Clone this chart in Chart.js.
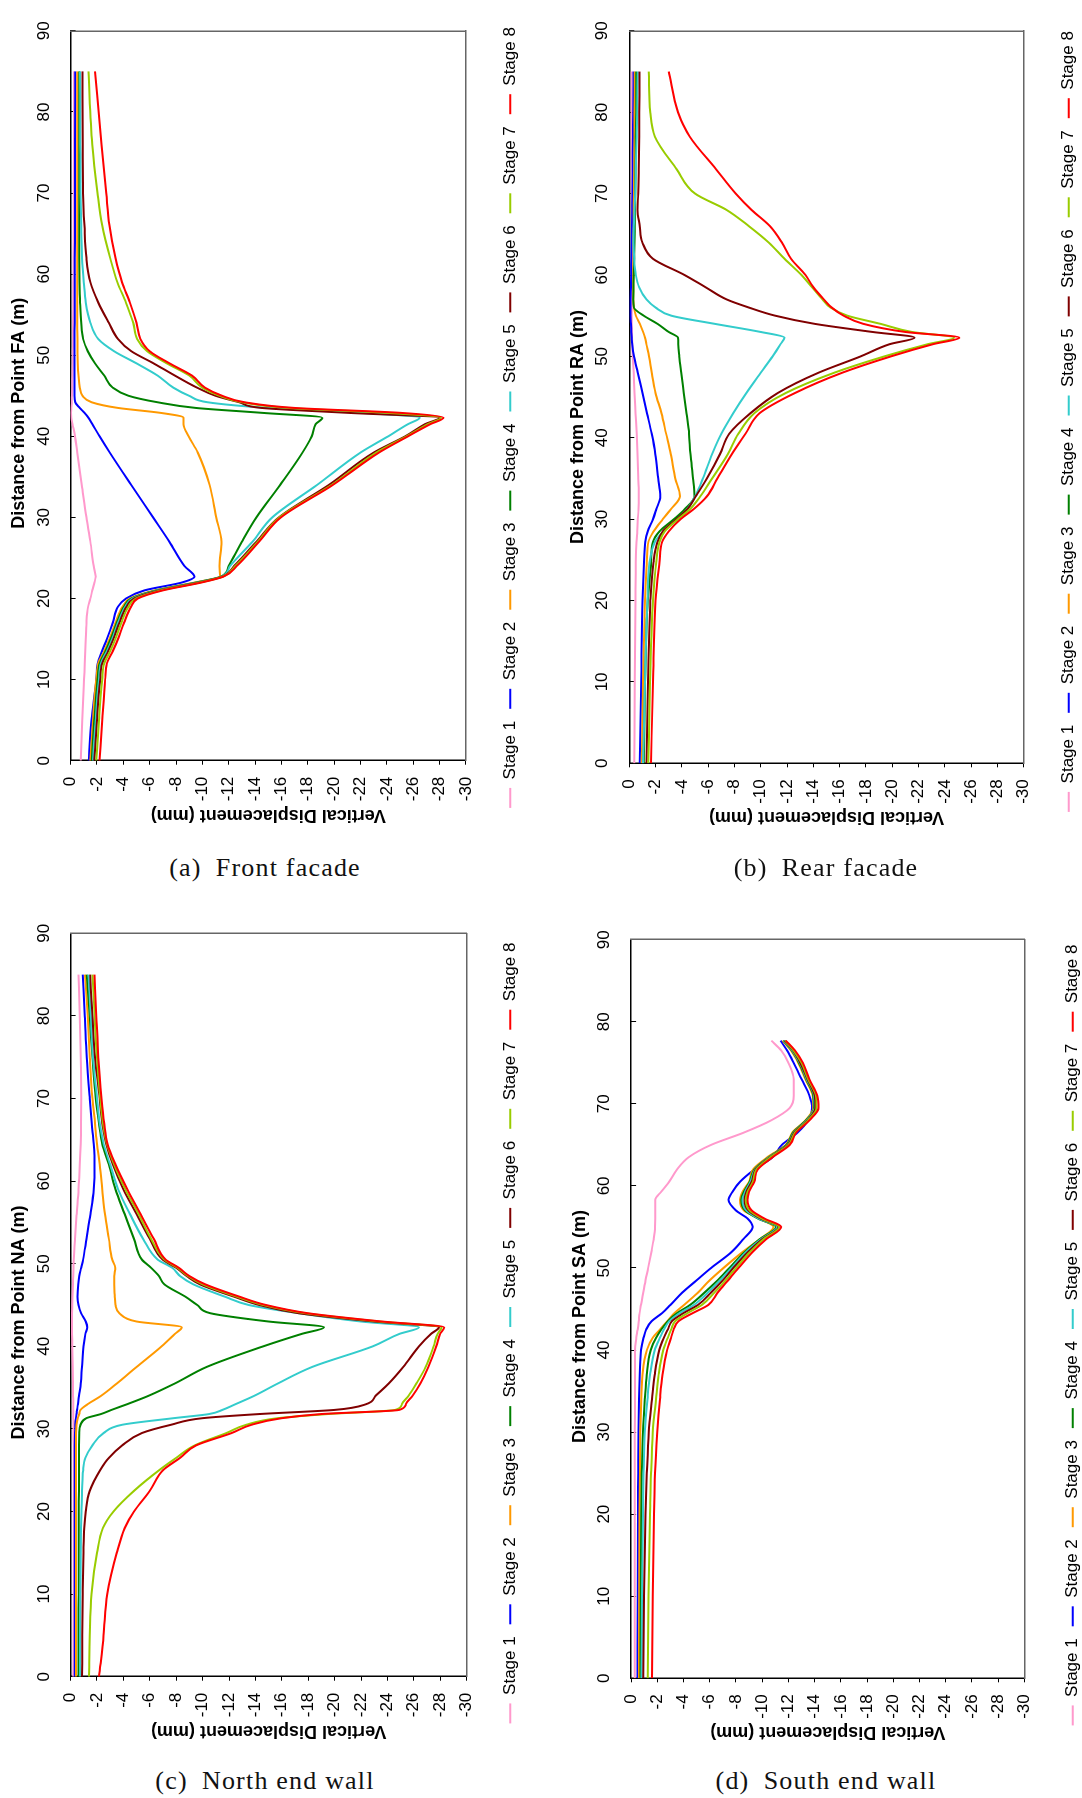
<!DOCTYPE html>
<html lang="en">
<head>
<meta charset="utf-8">
<title>Vertical displacement profiles, stages 1-8</title>
<script src="https://cdn.jsdelivr.net/npm/chart.js@4.4.1/dist/chart.umd.min.js"></script>
<style>
	html, body { margin: 0; padding: 0; background: #fff; }
	body { position: relative; width: 1082px; height: 1798px; overflow: hidden; }
	.panel { position: absolute; width: 845px; height: 560px; transform-origin: 0 0; transform: rotate(-90deg); }
	.panel canvas { display: block; }
	.caption {
		position: absolute; text-align: center; white-space: nowrap; color: #111;
		font-family: "Liberation Serif", "DejaVu Serif", serif; font-size: 26px; line-height: 30px; letter-spacing: 1.2px;
	}
</style>
</head>
<body>
<div class="panel" style="left:0;top:845px"><canvas id="chartFA" width="845" height="560"></canvas></div>
<div class="panel" style="left:541px;top:845px"><canvas id="chartRA" width="845" height="560"></canvas></div>
<div class="panel" style="left:0;top:1745px"><canvas id="chartNA" width="845" height="560"></canvas></div>
<div class="panel" style="left:541px;top:1745px"><canvas id="chartSA" width="845" height="560"></canvas></div>

<div class="caption" style="left:0;top:853px;width:530px">(a)&ensp;Front facade</div>
<div class="caption" style="left:541px;top:853px;width:570px">(b)&ensp;Rear facade</div>
<div class="caption" style="left:0;top:1766px;width:530px">(c)&ensp;North end wall</div>
<div class="caption" style="left:541px;top:1766px;width:570px">(d)&ensp;South end wall</div>

<script>
// Distances along each wall (m) and vertical displacement (mm) for stages 1-8

// (a) Front facade, from point FA
var distFA = [0, 5, 10, 12, 13.5, 15, 17, 19, 20, 21, 22, 22.7, 24, 27, 30, 34, 38, 40, 41.5, 42.3, 42.9, 43.5, 44.2, 45, 46, 47.5, 49, 50.5, 52, 54, 56.5, 59, 62, 66, 70, 76, 85];
var fa1 = [-0.77, -0.88, -1.02, -1.08, -1.12, -1.15, -1.2, -1.33, -1.5, -1.65, -1.82, -1.9, -1.75, -1.5, -1.2, -0.85, -0.5, -0.34, -0.15, -0.05, -0.03, -0.05, -0.08, -0.1, -0.12, -0.14, -0.16, -0.17, -0.18, -0.19, -0.2, -0.21, -0.22, -0.23, -0.24, -0.25, -0.25];
var fa2 = [-1.38, -1.58, -1.95, -2.05, -2.38, -2.75, -3.2, -3.6, -4.2, -5.6, -8.5, -9.4, -8.65, -7.5, -6.26, -4.6, -2.97, -2.2, -1.65, -1.35, -1.05, -0.7, -0.35, -0.3, -0.3, -0.3, -0.3, -0.3, -0.3, -0.31, -0.31, -0.32, -0.32, -0.33, -0.33, -0.34, -0.35];
var fa3 = [-1.5, -1.7, -1.95, -2.1, -2.55, -2.95, -3.4, -3.95, -4.5, -6.4, -9.5, -11.35, -11.3, -11.45, -11.05, -10.55, -9.65, -8.96, -8.57, -8.57, -6.8, -3.6, -1.6, -0.9, -0.7, -0.6, -0.55, -0.53, -0.52, -0.51, -0.5, -0.5, -0.5, -0.5, -0.5, -0.5, -0.5];
var fa4 = [-1.6, -1.8, -2.05, -2.2, -2.65, -3.05, -3.5, -4.05, -4.6, -6.5, -9.6, -11.4, -12.0, -13.0, -14.1, -15.9, -17.6, -18.3, -18.6, -19.1, -14.5, -9.5, -6.6, -4.4, -3.2, -2.55, -1.85, -1.3, -0.95, -0.8, -0.72, -0.68, -0.66, -0.65, -0.65, -0.65, -0.65];
var fa5 = [-1.7, -1.9, -2.15, -2.3, -2.75, -3.15, -3.6, -4.15, -4.7, -6.6, -9.7, -11.45, -12.1, -13.8, -15.3, -18.7, -22.0, -24.1, -25.6, -26.5, -22.0, -15.0, -10.4, -9.0, -7.8, -6.6, -5.0, -3.3, -2.1, -1.5, -1.15, -1.0, -0.87, -0.8, -0.76, -0.74, -0.72];
var fa6 = [-1.8, -2.0, -2.25, -2.4, -2.85, -3.25, -3.7, -4.25, -4.8, -6.7, -9.8, -11.5, -12.4, -14.1, -15.8, -19.6, -23.0, -25.4, -26.9, -28.0, -21.0, -14.5, -12.8, -11.0, -9.6, -7.9, -6.3, -4.6, -3.6, -2.9, -2.1, -1.5, -1.2, -1.05, -0.95, -0.92, -0.9];
var fa7 = [-1.95, -2.15, -2.4, -2.55, -3.0, -3.4, -3.85, -4.4, -4.95, -6.85, -9.9, -11.55, -12.5, -14.2, -15.85, -19.8, -23.2, -25.5, -27.1, -28.1, -24.0, -16.5, -13.0, -11.3, -10.0, -9.0, -7.3, -5.8, -5.05, -4.75, -4.2, -3.55, -3.0, -2.4, -2.05, -1.65, -1.35];
var fa8 = [-2.2, -2.4, -2.62, -2.75, -3.2, -3.6, -4.05, -4.6, -5.1, -7.0, -10.0, -11.6, -12.6, -14.3, -15.95, -19.9, -23.4, -25.6, -27.3, -28.3, -25.0, -17.0, -13.2, -11.5, -10.2, -9.2, -7.5, -6.0, -5.3, -5.0, -4.5, -3.9, -3.4, -2.95, -2.7, -2.35, -1.85];

// (b) Rear facade, from point RA
var distRA = [0, 10, 20, 24.7, 27.2, 28.5, 30, 31.2, 32.8, 35, 38, 40.5, 43, 45.5, 48, 50, 51.5, 52.3, 53, 54, 55, 56, 57, 58.5, 60, 62, 64, 66, 68, 70, 73, 77, 80, 85];
var ra1 = [-0.38, -0.42, -0.47, -0.5, -0.55, -0.6, -0.65, -0.7, -0.72, -0.68, -0.62, -0.56, -0.48, -0.4, -0.33, -0.27, -0.23, -0.21, -0.2, -0.19, -0.18, -0.18, -0.18, -0.18, -0.18, -0.18, -0.18, -0.18, -0.18, -0.18, -0.18, -0.19, -0.19, -0.19];
var ra2 = [-0.8, -0.9, -1.0, -1.12, -1.22, -1.4, -1.8, -2.05, -2.36, -2.2, -1.98, -1.7, -1.35, -1.0, -0.65, -0.35, -0.22, -0.18, -0.15, -0.12, -0.1, -0.1, -0.1, -0.12, -0.14, -0.16, -0.18, -0.2, -0.22, -0.24, -0.26, -0.28, -0.3, -0.32];
var ra3 = [-0.95, -1.05, -1.2, -1.33, -1.45, -1.85, -2.55, -3.15, -3.85, -3.5, -3.15, -2.8, -2.45, -2.0, -1.7, -1.5, -1.3, -1.2, -1.05, -0.8, -0.5, -0.35, -0.3, -0.3, -0.3, -0.31, -0.32, -0.33, -0.34, -0.35, -0.37, -0.39, -0.4, -0.42];
var ra4 = [-1.1, -1.2, -1.4, -1.66, -1.8, -2.3, -3.4, -4.2, -4.95, -4.85, -4.65, -4.55, -4.35, -4.15, -3.95, -3.8, -3.72, -3.7, -3.0, -2.15, -1.1, -0.35, -0.3, -0.32, -0.34, -0.37, -0.4, -0.42, -0.44, -0.46, -0.48, -0.5, -0.52, -0.53];
var ra5 = [-1.05, -1.2, -1.38, -1.54, -1.95, -2.6, -3.7, -4.4, -5.0, -5.6, -6.3, -7.0, -7.9, -8.9, -10.0, -10.9, -11.5, -11.8, -10.0, -6.5, -3.2, -2.0, -1.3, -0.75, -0.5, -0.37, -0.32, -0.34, -0.4, -0.45, -0.5, -0.56, -0.6, -0.64];
var ra6 = [-1.3, -1.42, -1.6, -1.84, -2.15, -2.55, -3.6, -4.4, -5.05, -5.9, -6.9, -7.6, -9.2, -11.3, -14.4, -17.6, -19.8, -21.7, -18.5, -14.1, -11.1, -9.1, -7.4, -5.8, -4.2, -1.8, -1.0, -0.8, -0.62, -0.68, -0.72, -0.75, -0.76, -0.78];
var ra7 = [-1.45, -1.58, -1.8, -2.05, -2.3, -2.7, -3.7, -4.6, -5.4, -6.3, -7.5, -8.3, -9.5, -11.9, -15.6, -19.4, -22.7, -24.7, -21.5, -19.1, -16.6, -15.3, -14.7, -13.9, -13.1, -11.8, -10.6, -9.1, -7.4, -5.0, -3.6, -1.95, -1.6, -1.48];
var ra8 = [-1.65, -1.8, -2.0, -2.3, -2.5, -3.0, -3.9, -4.87, -5.9, -6.7, -7.8, -8.84, -9.9, -12.6, -16.2, -19.9, -23.1, -25.1, -21.0, -17.8, -16.3, -15.4, -14.8, -14.0, -13.4, -12.3, -11.6, -10.7, -9.3, -8.1, -6.6, -4.6, -3.7, -3.0];

// (c) North end wall, from point NA
var distNA = [0, 5, 10, 15, 18, 20, 22.5, 25, 26.5, 28, 29.5, 30.5, 31.3, 31.8, 32.3, 33, 34, 35.5, 37.5, 40, 41.5, 42.3, 43, 44, 45, 46, 47.5, 48.5, 49.5, 50.5, 53, 56, 59, 62, 64.5, 67, 70, 75, 80, 85];
var na1 = [-0.21, -0.22, -0.23, -0.24, -0.24, -0.24, -0.24, -0.24, -0.23, -0.23, -0.22, -0.22, -0.21, -0.21, -0.2, -0.2, -0.19, -0.18, -0.16, -0.13, -0.11, -0.1, -0.1, -0.11, -0.13, -0.15, -0.18, -0.2, -0.22, -0.24, -0.33, -0.46, -0.6, -0.7, -0.76, -0.79, -0.8, -0.77, -0.7, -0.6];
var na2 = [-0.32, -0.32, -0.32, -0.32, -0.32, -0.32, -0.32, -0.32, -0.32, -0.32, -0.33, -0.36, -0.4, -0.44, -0.49, -0.56, -0.64, -0.77, -0.86, -0.97, -1.12, -1.26, -1.15, -0.8, -0.6, -0.53, -0.58, -0.66, -0.8, -0.95, -1.2, -1.5, -1.75, -1.82, -1.75, -1.6, -1.45, -1.23, -1.08, -0.92];
var na3 = [-0.4, -0.4, -0.4, -0.4, -0.4, -0.4, -0.4, -0.4, -0.4, -0.4, -0.4, -0.45, -0.55, -0.65, -0.75, -1.3, -2.3, -3.5, -5.0, -6.9, -7.9, -8.42, -5.0, -3.7, -3.4, -3.35, -3.3, -3.3, -3.38, -3.15, -2.9, -2.6, -2.4, -2.2, -2.0, -1.85, -1.65, -1.45, -1.3, -1.1];
var na4 = [-0.6, -0.6, -0.61, -0.62, -0.62, -0.62, -0.63, -0.63, -0.64, -0.64, -0.65, -0.75, -1.2, -2.3, -3.1, -4.3, -5.9, -7.9, -10.3, -14.6, -17.5, -19.2, -15.0, -10.6, -9.6, -8.7, -7.1, -6.7, -6.1, -5.4, -4.8, -4.1, -3.4, -2.9, -2.4, -2.15, -1.9, -1.65, -1.45, -1.23];
var na5 = [-0.71, -0.72, -0.74, -0.76, -0.79, -0.82, -0.87, -0.95, -1.12, -1.65, -2.5, -3.9, -7.8, -10.5, -11.5, -12.5, -13.9, -15.7, -18.3, -22.9, -24.9, -26.4, -22.0, -17.3, -13.5, -11.7, -9.3, -8.3, -7.7, -6.6, -5.5, -4.5, -3.6, -3.0, -2.5, -2.2, -2.0, -1.7, -1.52, -1.35];
var na6 = [-0.87, -0.89, -0.92, -0.97, -1.03, -1.15, -1.45, -2.24, -2.9, -3.9, -5.4, -7.6, -10.0, -14.3, -20.0, -22.4, -23.1, -24.1, -25.2, -26.4, -27.3, -27.9, -23.0, -17.3, -14.3, -12.4, -9.8, -8.8, -8.0, -6.97, -6.0, -5.0, -4.0, -3.2, -2.7, -2.4, -2.2, -1.85, -1.65, -1.48];
var na7 = [-1.4, -1.45, -1.58, -2.0, -2.45, -3.25, -4.8, -6.7, -8.0, -9.4, -11.8, -13.3, -15.7, -19.5, -24.6, -25.1, -25.6, -26.2, -26.9, -27.5, -27.8, -28.1, -23.4, -17.8, -14.6, -12.6, -10.0, -8.9, -8.1, -7.1, -6.1, -5.15, -4.15, -3.3, -2.75, -2.45, -2.25, -2.0, -1.82, -1.66];
var na8 = [-2.16, -2.5, -2.78, -3.5, -4.1, -4.8, -6.0, -7.0, -8.3, -9.5, -12.2, -13.7, -16.0, -19.0, -24.9, -25.4, -25.9, -26.5, -27.1, -27.7, -28.0, -28.3, -23.6, -18.0, -14.8, -12.8, -10.2, -9.0, -8.2, -7.2, -6.3, -5.3, -4.3, -3.4, -2.8, -2.55, -2.35, -2.1, -1.95, -1.81];

// (d) South end wall, from point SA
var distSA = [0, 10, 20, 25, 30, 34, 37, 40, 41.5, 42.5, 43.5, 44.5, 45.5, 47, 48.5, 50, 52, 53.5, 55, 56, 57, 58.3, 59.3, 60.5, 62, 63.5, 65, 66.5, 68, 69.5, 71, 73, 75, 76.5, 77.7];
var sa1 = [-0.27, -0.27, -0.28, -0.28, -0.28, -0.3, -0.3, -0.3, -0.4, -0.5, -0.58, -0.65, -0.75, -0.92, -1.1, -1.3, -1.55, -1.72, -1.83, -1.84, -1.84, -1.84, -2.3, -2.9, -3.5, -4.4, -6.1, -8.6, -10.7, -12.1, -12.4, -12.4, -12.0, -11.45, -10.7];
var sa2 = [-0.49, -0.5, -0.52, -0.54, -0.56, -0.6, -0.66, -0.75, -0.95, -1.15, -1.55, -2.36, -3.0, -3.9, -5.0, -6.1, -7.7, -8.55, -9.27, -8.9, -8.0, -7.42, -7.75, -8.3, -9.4, -10.8, -11.5, -12.7, -13.5, -13.8, -13.6, -13.0, -12.4, -11.9, -11.4];
var sa3 = [-0.6, -0.62, -0.65, -0.67, -0.7, -0.78, -0.87, -1.2, -1.65, -2.2, -2.75, -3.3, -4.05, -5.1, -6.0, -7.05, -8.55, -9.8, -10.86, -9.8, -8.6, -8.3, -8.5, -9.0, -9.3, -10.4, -11.8, -12.3, -13.3, -13.9, -13.85, -13.3, -12.75, -12.2, -11.55];
var sa4 = [-0.72, -0.74, -0.78, -0.82, -0.9, -1.05, -1.2, -1.5, -1.9, -2.3, -2.8, -3.5, -4.5, -5.6, -6.6, -7.5, -8.7, -9.8, -11.05, -9.7, -8.7, -8.4, -8.6, -9.05, -9.4, -10.5, -11.85, -12.35, -13.35, -13.95, -13.9, -13.35, -12.8, -12.25, -11.6];
var sa5 = [-0.8, -0.83, -0.9, -0.95, -1.05, -1.25, -1.45, -1.8, -2.2, -2.5, -2.9, -3.7, -4.8, -5.85, -6.8, -7.65, -8.8, -9.9, -11.15, -9.75, -8.8, -8.5, -8.7, -9.1, -9.45, -10.55, -11.9, -12.4, -13.4, -14.0, -13.95, -13.4, -12.85, -12.3, -11.65];
var sa6 = [-0.92, -0.98, -1.1, -1.2, -1.35, -1.6, -1.8, -2.15, -2.5, -2.8, -3.1, -4.0, -5.1, -6.1, -7.0, -7.8, -8.95, -10.0, -11.25, -9.9, -8.95, -8.65, -8.8, -9.2, -9.5, -10.6, -11.95, -12.45, -13.45, -14.05, -14.0, -13.45, -12.9, -12.35, -11.7];
var sa7 = [-1.27, -1.33, -1.45, -1.52, -1.66, -1.9, -2.1, -2.45, -2.8, -3.05, -3.35, -4.3, -5.4, -6.35, -7.2, -8.0, -9.1, -10.1, -11.3, -10.0, -9.05, -8.75, -8.9, -9.3, -9.55, -10.65, -12.0, -12.5, -13.5, -14.15, -14.1, -13.5, -13.0, -12.4, -11.75];
var sa8 = [-1.6, -1.66, -1.75, -1.82, -2.0, -2.2, -2.4, -2.75, -3.05, -3.25, -3.6, -4.7, -5.9, -6.6, -7.4, -8.2, -9.3, -10.3, -11.45, -10.2, -9.2, -8.87, -9.0, -9.4, -9.66, -10.8, -12.1, -12.6, -13.6, -14.3, -14.2, -13.6, -13.1, -12.5, -11.8];

var stageNames = ['Stage 1', 'Stage 2', 'Stage 3', 'Stage 4', 'Stage 5', 'Stage 6', 'Stage 7', 'Stage 8'];
var distTicks = { min: 0, max: 90, step: 10 };
var dispTicks = { min: -30, max: 0, step: 2 };

(function () {
	'use strict';

	var stageColors = ['#ff99cc', '#0000ff', '#ff9900', '#008000', '#33cccc', '#800000', '#99cc00', '#ff0000'];
	var frameColor = '#666';

	Chart.defaults.font.family = '"Liberation Sans", Arial, sans-serif';
	Chart.defaults.font.size = 17;
	Chart.defaults.color = '#000';

	// each chart is drawn in the normal Excel orientation, the panel div is turned 90deg
	function drawPanel(canvasId, pointName, dist, series, box) {
		var datasets = series.map(function (values, i) {
			return {
				label: stageNames[i],
				data: dist.map(function (d, j) {
					return { x: d, y: values[j] };
				}),
				borderColor: stageColors[i],
				backgroundColor: stageColors[i],
				borderWidth: 2,
				borderJoinStyle: 'round',
				pointRadius: 0,
				pointHoverRadius: 0,
				cubicInterpolationMode: 'monotone',
				order: series.length - i
			};
		});

		// trailing spaces push the centred title a little off centre, as in the original
		var distTitle = 'Distance from Point ' + pointName + ' (m)' + ' '.repeat(box.titleSpaces);

		return new Chart(document.getElementById(canvasId), {
			type: 'line',
			data: { datasets: datasets },
			options: {
				responsive: false,
				animation: false,
				events: [],
				layout: { padding: box.padding },
				plugins: {
					tooltip: { enabled: false },
					legend: {
						position: 'bottom',
						labels: {
							color: '#000',
							font: { size: 17 },
							usePointStyle: true,
							pointStyle: 'line',
							pointStyleWidth: 20,
							padding: 12,
							sort: function (a, b) {
								return a.datasetIndex - b.datasetIndex;
							}
						}
					}
				},
				scales: {
					x: {
						type: 'linear',
						position: 'top',
						min: distTicks.min,
						max: distTicks.max,
						ticks: { stepSize: distTicks.step, padding: 21.4, maxRotation: 0, autoSkip: false },
						grid: { drawOnChartArea: false, tickLength: -5, color: '#000', lineWidth: 1 },
						border: { color: '#000', width: 1.5 },
						title: {
							display: true,
							text: distTitle,
							font: { size: 18, weight: 'bold' },
							padding: { top: 7.7, bottom: 0 }
						},
						afterFit: function (scale) {
							scale.height = 70;
						}
					},
					y: {
						type: 'linear',
						position: 'left',
						min: dispTicks.min,
						max: dispTicks.max,
						ticks: { stepSize: dispTicks.step, padding: 12, autoSkip: false },
						grid: { drawOnChartArea: false, tickLength: 4, color: '#000', lineWidth: 1 },
						border: { color: '#000', width: 1.5 },
						title: {
							display: true,
							text: 'Vertical Displacement (mm)',
							font: { size: 18, weight: 'bold' },
							padding: { top: 1.2, bottom: 0 }
						},
						afterFit: function (scale) {
							scale.width = 66;
						}
					},
					// plain frame lines on the two open sides of the plot area
					x2: {
						type: 'linear',
						position: 'bottom',
						min: distTicks.min,
						max: distTicks.max,
						ticks: { display: false },
						grid: { display: false },
						border: { color: frameColor, width: 1.5 },
						afterFit: function (scale) {
							scale.height = box.gap;
						}
					},
					y2: {
						type: 'linear',
						position: 'right',
						min: dispTicks.min,
						max: dispTicks.max,
						ticks: { display: false },
						grid: { display: false },
						border: { color: frameColor, width: 1.5 },
						afterFit: function (scale) {
							scale.width = box.edge;
						}
					}
				}
			}
		});
	}

	drawPanel('chartFA', 'FA', distFA, [fa1, fa2, fa3, fa4, fa5, fa6, fa7, fa8],
		{ padding: { top: 0.6, left: 18.3, right: 8.3, bottom: 31.2 }, gap: 23.9, edge: 10, titleSpaces: 7 });
	drawPanel('chartRA', 'RA', distRA, [ra1, ra2, ra3, ra4, ra5, ra6, ra7, ra8],
		{ padding: { top: 18.3, left: 15.7, right: 13.7, bottom: 13.8 }, gap: 24.5, edge: 9.6, titleSpaces: 12 });
	drawPanel('chartNA', 'NA', distNA, [na1, na2, na3, na4, na5, na6, na7, na8],
		{ padding: { top: 0.6, left: 2.3, right: 23.3, bottom: 31.2 }, gap: 23.2, edge: 10, titleSpaces: 7 });
	drawPanel('chartSA', 'SA', distSA, [sa1, sa2, sa3, sa4, sa5, sa6, sa7, sa8],
		{ padding: { top: 20.1, left: 0.7, right: 25.7, bottom: 9.8 }, gap: 27.8, edge: 14, titleSpaces: 7 });
})();
</script>
</body>
</html>
